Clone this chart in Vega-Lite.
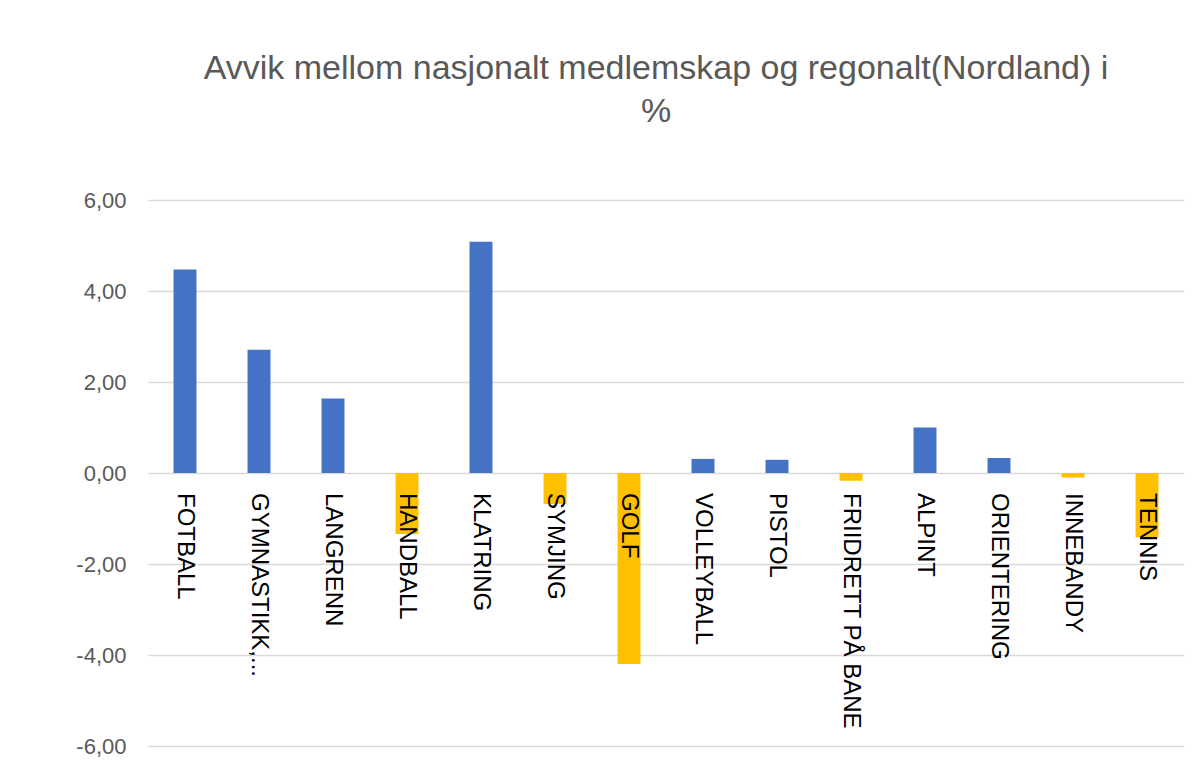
{
  "$schema": "https://vega.github.io/schema/vega-lite/v6.json",
  "autosize": "none",
  "width": 1036,
  "height": 546,
  "padding": {"left": 148, "top": 200, "right": 11, "bottom": 28},
  "background": "white",
  "config": {"view": {"stroke": null}, "font": "Liberation Sans"},
  "title": {
    "text": ["Avvik mellom nasjonalt medlemskap og regonalt(Nordland) i", "%"],
    "fontSize": 34,
    "fontWeight": "normal",
    "color": "#595959",
    "font": "Liberation Sans",
    "lineHeight": 43,
    "anchor": "middle",
    "dx": -10,
    "offset": 60
  },
  "data": {
    "values": [
      {"sport": "FOTBALL", "value": 4.47},
      {"sport": "GYMNASTIKK,...", "value": 2.71},
      {"sport": "LANGRENN", "value": 1.64},
      {"sport": "HANDBALL", "value": -1.34},
      {"sport": "KLATRING", "value": 5.08},
      {"sport": "SYMJING", "value": -0.68},
      {"sport": "GOLF", "value": -4.2},
      {"sport": "VOLLEYBALL", "value": 0.31},
      {"sport": "PISTOL", "value": 0.29},
      {"sport": "FRIIDRETT PÅ  BANE", "value": -0.17},
      {"sport": "ALPINT", "value": 1.0},
      {"sport": "ORIENTERING", "value": 0.33},
      {"sport": "INNEBANDY", "value": -0.1},
      {"sport": "TENNIS", "value": -1.41}
    ]
  },
  "encoding": {
    "x": {
      "field": "sport",
      "type": "nominal",
      "sort": null,
      "scale": {"paddingInner": 0.69, "paddingOuter": 0.345},
      "axis": null
    }
  },
  "layer": [
    {
      "mark": {"type": "bar"},
      "encoding": {
        "y": {
          "field": "value",
          "type": "quantitative",
          "scale": {"domain": [-6, 6], "nice": false},
          "axis": {
            "title": null,
            "values": [-6, -4, -2, 0, 2, 4, 6],
            "labelExpr": "(datum.value < 0 ? '-' : '') + replace(format(abs(datum.value), '.2f'), '.', ',')",
            "labelFontSize": 22,
            "labelColor": "#595959",
            "labelFont": "Liberation Sans",
            "labelPadding": 22,
            "domain": false,
            "ticks": false,
            "grid": true,
            "gridColor": "#D9D9D9",
            "gridWidth": 1.7
          }
        },
        "color": {
          "condition": {"test": "datum.value < 0", "value": "#FFC000"},
          "value": "#4472C4"
        }
      }
    },
    {
      "mark": {
        "type": "text",
        "angle": 90,
        "align": "left",
        "baseline": "middle",
        "dx": 20,
        "fontSize": 24,
        "font": "Liberation Sans",
        "color": "black"
      },
      "encoding": {
        "y": {"datum": 0, "type": "quantitative"},
        "text": {"field": "sport"}
      }
    }
  ]
}
